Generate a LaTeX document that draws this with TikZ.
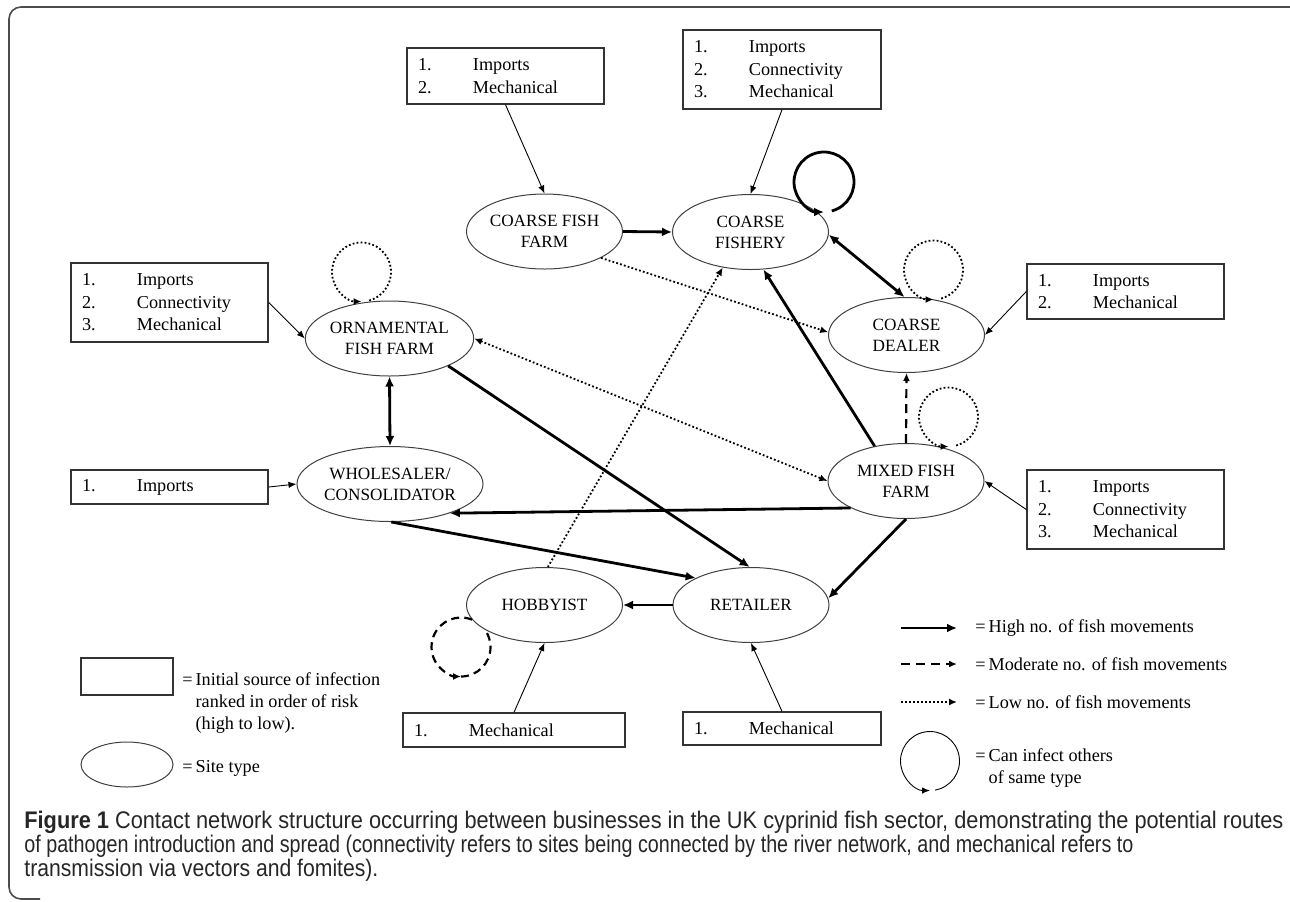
\documentclass[tikz,border=0pt]{standalone}
\usepackage{fontspec}
\usepackage{graphicx}
\setmainfont{Liberation Serif}
\newfontfamily\capfont{Liberation Sans}
\usetikzlibrary{arrows.meta,shapes.geometric,calc}
\newcommand\srcitem[2]{\makebox[27.5pt][l]{#1}#2}
\begin{document}
\begin{tikzpicture}[x=0.5pt,y=-0.5pt,
  site/.style={ellipse, draw=black!75, line width=0.5pt, minimum width=78pt, minimum height=37.5pt, inner sep=0pt, align=center, font=\fontsize{8.6}{10.5}\selectfont},
  src/.style={rectangle, draw=black!80, line width=0.7pt, inner xsep=5.5pt, inner ysep=0pt, align=left, font=\fontsize{9.1}{11.25}\selectfont},
  lbl/.style={inner sep=0pt, font=\fontsize{9.1}{11}\selectfont},
  thin/.style={-{Latex[length=4pt,width=3.2pt]}, line width=0.45pt},
  high/.style={-{Latex[length=5pt,width=4.5pt]}, line width=1.4pt},
  highb/.style={{Latex[length=5pt,width=4.5pt]}-{Latex[length=5pt,width=4.5pt]}, line width=1.4pt},
  low/.style={-{Latex[length=4pt,width=3.5pt]}, line width=0.9pt, dash pattern=on 0.9pt off 1.1pt},
  lowb/.style={{Latex[length=4pt,width=3.5pt]}-{Latex[length=4pt,width=3.5pt]}, line width=0.9pt, dash pattern=on 0.9pt off 1.1pt},
  mod/.style={-{Latex[length=4pt,width=3.5pt]}, line width=1.1pt, dash pattern=on 4.5pt off 3pt},
  capt/.style={inner sep=0pt, font=\capfont\fontsize{12}{14}\selectfont, text=black!85}
]
\useasboundingbox (0,0) rectangle (1290,901);
% frame
\draw[draw=black!70, line width=0.8pt, rounded corners=6pt] (1290,7) -- (9,7) -- (9,899) -- (40,899);

% sites
\node[site] (cff) at (544.5,231.5) {COARSE FISH\\FARM};
\node[site] (cfy) at (750.5,232) {COARSE\\FISHERY};
\node[site] (orn) at (389.5,338.5) {ORNAMENTAL\\FISH FARM};
\node[site] (whl) at (390,484) {WHOLESALER/\\CONSOLIDATOR};
\node[site] (dlr) at (906.5,335) {COARSE\\DEALER};
\node[site] (mix) at (906,481) {MIXED FISH\\FARM};
\node[site] (hob) at (544.5,605) {HOBBYIST};
\node[site] (ret) at (751,605) {RETAILER};

% source boxes
\node[src, minimum height=28pt, text width=87.5pt] (s1) at (505.5,76) {\srcitem{1.}{Imports}\\\srcitem{2.}{Mechanical}};
\node[src, minimum height=39.5pt, text width=88pt] (s2) at (782,69.5) {\srcitem{1.}{Imports}\\\srcitem{2.}{Connectivity}\\\srcitem{3.}{Mechanical}};
\node[src, minimum height=39.5pt, text width=87.5pt] (s3) at (169.5,302.5) {\srcitem{1.}{Imports}\\\srcitem{2.}{Connectivity}\\\srcitem{3.}{Mechanical}};
\node[src, minimum height=17pt, text width=87.5pt] (s4) at (169.5,487) {\srcitem{1.}{Imports}};
\node[src, minimum height=27.5pt, text width=87.5pt] (s5) at (1125.5,291.5) {\srcitem{1.}{Imports}\\\srcitem{2.}{Mechanical}};
\node[src, minimum height=39.5pt, text width=87.5pt] (s6) at (1125.5,509.5) {\srcitem{1.}{Imports}\\\srcitem{2.}{Connectivity}\\\srcitem{3.}{Mechanical}};
\node[src, minimum height=17pt, text width=100pt] (s7) at (514,730) {\srcitem{1.}{Mechanical}};
\node[src, minimum height=16.5pt, text width=88pt] (s8) at (782,728.5) {\srcitem{1.}{Mechanical}};

% source arrows
\draw[thin] (s1.south) -- (cff.north);
\draw[thin] (s2.south) -- (cfy.north);
\draw[thin] (s3.east) -- (orn.west);
\draw[thin] (s4.east) -- (whl.west);
\draw[thin] (s5.west) -- (dlr.east);
\draw[thin] (s6.west) -- (mix.east);
\draw[thin] (s7.north) -- (hob.south);
\draw[thin] (s8.north) -- (ret.south);

% high movements
\draw[high] (cff.east) -- (cfy.west);
\draw[highb] (cfy.-2) -- (dlr.93);
\draw[high] (mix.132) -- (cfy.-71);
\draw[high] (orn.-25) -- (ret.92);
\draw[high] (mix.206) -- (whl.-26);
\draw[high] (whl.-88) -- (ret.154);
\draw[high] (mix.south) -- (ret.5);
\draw[high] (ret.west) -- (hob.east);
\draw[highb] (orn.south) -- (whl.north);

% low movements
\draw[low] (cff.-25) -- (dlr.178);
\draw[lowb] (orn.east) -- (mix.west);
\draw[low] (hob.85) -- (cfy.232);

% moderate
\draw[mod] (mix.north) -- (dlr.south);

% loops
\coordinate (cfyL) at (824,182);
\coordinate (ornL) at (361.5,272);
\coordinate (dlrL) at (933.5,270);
\coordinate (mixL) at (948.5,417);
\coordinate (hobL) at (461,647);
\draw[high] (cfyL) ++(-75:15pt) arc[start angle=-75, end angle=270, radius=15pt];
\draw[low] (ornL) ++(-75:14.75pt) arc[start angle=-75, end angle=270, radius=14.75pt];
\draw[low] (dlrL) ++(-75:14.75pt) arc[start angle=-75, end angle=270, radius=14.75pt];
\draw[low] (mixL) ++(-75:14.75pt) arc[start angle=-75, end angle=270, radius=14.75pt];
\draw[mod, dash pattern=on 4pt off 2.6pt] (hobL) ++(68:14.75pt) arc[start angle=68, end angle=270, radius=14.75pt];
\draw[line width=1.1pt, dash pattern=on 4pt off 2.6pt] (hobL) ++(270:14.75pt) arc[start angle=270, end angle=395, radius=14.75pt];

% legend left
\node[rectangle, draw=black!80, line width=0.7pt, minimum width=46pt, minimum height=18.5pt, inner sep=0pt] (legbox) at (127,676.5) {};
\node[ellipse, draw=black!75, line width=0.5pt, minimum width=46pt, minimum height=22.5pt, inner sep=0pt] (legell) at (127,764.5) {};
\node[lbl, anchor=west] (tbox) at (182,703) {\begin{tabular}{@{}l@{\hspace{1.5pt}}l@{}}=&Initial source of infection\\&ranked in order of risk\\&(high to low).\end{tabular}};
\node[lbl, anchor=west] (tell) at (182,768) {=\hspace{1.5pt}Site type};

% legend right
\coordinate (hA) at (901,628); \coordinate (hB) at (957,628);
\coordinate (mA) at (901,664); \coordinate (mB) at (957,664);
\coordinate (lA) at (901,702); \coordinate (lB) at (957,702);
\coordinate (legL) at (930,761);
\draw[high] (hA) -- (hB);
\draw[mod] (mA) -- (mB);
\draw[low] (lA) -- (lB);
\draw[thin] (legL) ++(-80:14.75pt) arc[start angle=-80, end angle=270, radius=14.75pt];
\node[lbl, anchor=west] (tHigh) at (975,628) {=\hspace{1.5pt}High no. of fish movements};
\node[lbl, anchor=west] (tMod) at (975,664) {=\hspace{1.5pt}Moderate no. of fish movements};
\node[lbl, anchor=west] (tLow) at (975,702) {=\hspace{1.5pt}Low no. of fish movements};
\node[lbl, anchor=west] (tLoop) at (975,768.5) {\begin{tabular}{@{}l@{\hspace{1.5pt}}l@{}}=&Can infect others\\&of same type\end{tabular}};

% caption
\node[capt, anchor=base west] (cap1) at (24,828) {\resizebox{629.5pt}{\height}{\textbf{Figure 1} Contact network structure occurring between businesses in the UK cyprinid fish sector, demonstrating the potential routes}};
\node[capt, anchor=base west] (cap2) at (24,852) {\resizebox{554.5pt}{\height}{of pathogen introduction and spread (connectivity refers to sites being connected by the river network, and mechanical refers to}};
\node[capt, anchor=base west] (cap3) at (24,876) {\resizebox{177pt}{\height}{transmission via vectors and fomites).}};
\end{tikzpicture}
\end{document}
